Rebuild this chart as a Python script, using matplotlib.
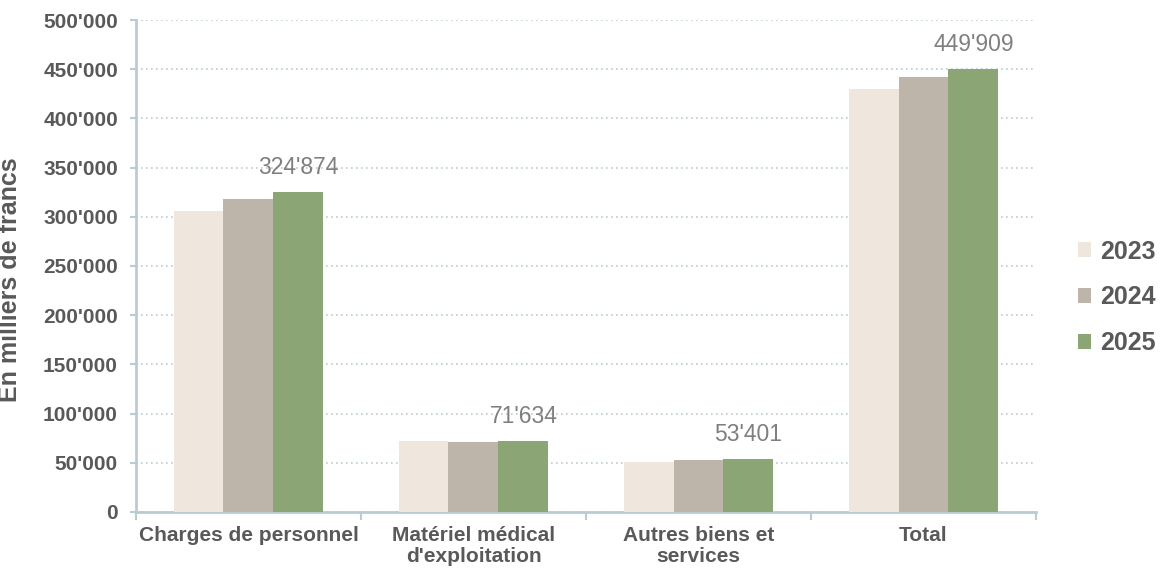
import numpy as np
import matplotlib.pyplot as plt
from matplotlib import rcParams
from matplotlib.ticker import FuncFormatter, FixedLocator

rcParams['font.family'] = ['Liberation Sans', 'DejaVu Sans']

categories = ['Charges de personnel', 'Matériel médical\nd\'exploitation',
              'Autres biens et\nservices', 'Total']
years = ['2023', '2024', '2025']
v2023 = [306100, 72300, 50300, 429700]
v2024 = [317600, 71000, 52400, 442200]
v2025 = [324874, 71634, 53401, 449909]
colors = ['#EFE6DE', '#BDB5AA', '#8BA574']

text_col = '#595959'
axis_col = '#B9CCD4'

fmt = lambda v: '{:,.0f}'.format(v).replace(',', "'")

fig = plt.figure(figsize=(11.66, 5.75), dpi=100)
ax = fig.add_axes([0.1166, 0.1096, 0.7719, 0.8556])

x = np.arange(len(categories))
w = 0.222
for i, (vals, c, lab) in enumerate(zip([v2023, v2024, v2025], colors, years)):
    ax.bar(x + (i - 1) * w, vals, width=w, color=c, label=lab, zorder=3)

# labels above the 2025 bars
for xi, v in zip(x, v2025):
    ax.annotate(fmt(v), (xi + w, v), xytext=(0, 13), textcoords='offset points',
                ha='center', va='baseline', fontsize=16.5, color='#7F7F7F',
                zorder=4)

ax.set_ylim(0, 500000)
ax.set_xlim(-0.5, 3.5)
ax.yaxis.set_major_locator(FixedLocator(np.arange(0, 500001, 50000)))
ax.yaxis.set_major_formatter(FuncFormatter(lambda v, p: fmt(v)))
ax.grid(axis='y', linestyle=(0, (1, 2)), color=axis_col, linewidth=1.2, zorder=0)

ax.set_xticks(x)
ax.set_xticklabels(categories, fontsize=15, fontweight='bold', color=text_col,
                   linespacing=1.15)
ax.set_xticks(np.arange(-0.5, 4.0, 1.0), minor=True)
ax.tick_params(axis='x', which='major', length=0, pad=10)
ax.tick_params(axis='x', which='minor', length=6, width=1.5, color=axis_col)
ax.tick_params(axis='y', length=4, width=1.5, color=axis_col, pad=9,
               labelsize=15, labelcolor=text_col)
for t in ax.get_yticklabels():
    t.set_fontweight('bold')

for s in ['top', 'right']:
    ax.spines[s].set_visible(False)
for s in ['left', 'bottom']:
    ax.spines[s].set_color(axis_col)
    ax.spines[s].set_linewidth(2)

ax.set_ylabel('En milliers de francs', fontsize=18, fontweight='bold', color=text_col)
ax.yaxis.set_label_coords(-0.127, 0.472)

leg = fig.legend(loc='center left', bbox_to_anchor=(0.905, 0.483), frameon=False,
                 prop={'size': 18, 'weight': 'bold'}, handlelength=0.55,
                 handleheight=0.55, handletextpad=0.35, labelspacing=0.87)
for t in leg.get_texts():
    t.set_color(text_col)

fig.savefig('out.png', dpi=100, facecolor='w')
